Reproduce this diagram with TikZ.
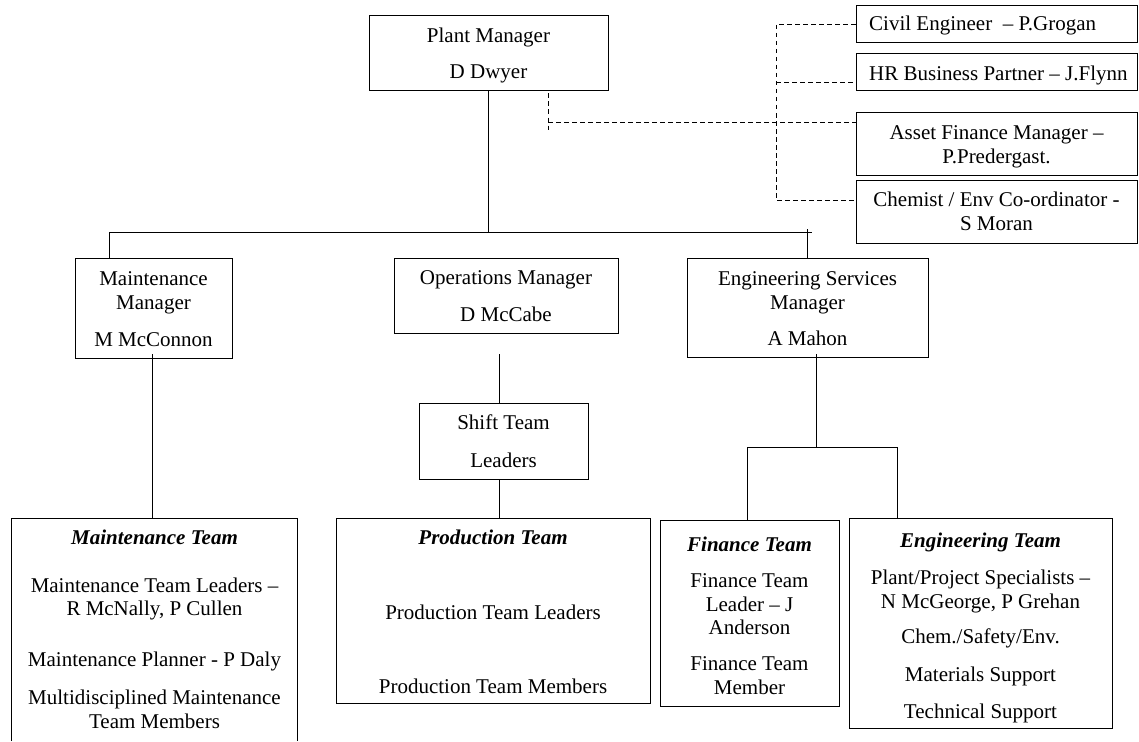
\documentclass[tikz,border=0pt]{standalone}
\usepackage{fontspec}
\setmainfont{Liberation Serif}
\begin{document}
\begin{tikzpicture}[x=1pt,y=-1pt,
  box/.style={draw=black, line width=1pt, inner sep=0pt, rectangle},
  openbox/.style={draw=none, inner sep=0pt, rectangle},
  txt/.style={font=\fontsize{21}{23.5}\selectfont, align=center, inner sep=0pt},
  conn/.style={line width=1pt, black},
  dotline/.style={line width=1pt, black, dash pattern=on 4.5pt off 3.5pt}]
\useasboundingbox (0,0) rectangle (1139,741);
\newcommand\mybox[6][box]{\node[#1, minimum width={(#5-#3)*1pt}, minimum height={(#6-#4)*1pt}] (#2) at ({(#3+#5)/2},{(#4+#6)/2}) {};}
% boxes
\mybox{pm}{369}{16}{608}{91}
\mybox{ce}{856}{6}{1137}{43}
\mybox{hr}{856}{54}{1137}{91}
\mybox{af}{856}{113}{1137}{175}
\mybox{ch}{856}{180}{1137}{243}
\mybox{mm}{75}{258}{232}{358}
\mybox{ops}{394}{258}{618}{333}
\mybox{es}{687}{258}{928}{357}
\mybox{st}{419}{403}{588}{479}
\mybox[openbox]{mt}{12}{519}{297}{741}
\mybox{pt}{336}{518}{650}{703}
\mybox{fin}{660}{520}{839}{706}
\mybox{et}{849}{518}{1112}{728}
\draw[conn] (mt.south west) -- (mt.north west) -- (mt.north east) -- (mt.south east);
% texts
\node[txt, anchor=base] (pm-t) at (488.5,79) {Plant Manager\\[12.5pt]D Dwyer};
\node[txt, anchor=base west] (ce-t) at (869,31) {Civil Engineer\ \ -- P.Grogan};
\node[txt, anchor=base west] (hr-t) at (869,81) {HR Business Partner -- J.Flynn};
\node[txt, anchor=base] (af-t) at (996.5,163) {Asset Finance Manager --\\P.Predergast.};
\node[txt, anchor=base] (ch-t) at (996.5,230) {Chemist / Env Co-ordinator -\\S Moran};
\node[txt, anchor=base] (mm-t) at (153.5,346) {Maintenance\\Manager\\[13.5pt]M McConnon};
\node[txt, anchor=base] (ops-t) at (506,321) {Operations Manager\\[13.5pt]D McCabe};
\node[txt, anchor=base] (es-t) at (807.5,345) {Engineering Services\\Manager\\[12.5pt]A Mahon};
\node[txt, anchor=base] (st-t) at (503.5,467) {Shift Team\\[14.5pt]Leaders};
\node[txt, anchor=base] (mt-t) at (154.5,728) {\textbf{\textit{Maintenance Team}}\\[24.5pt]Maintenance Team Leaders --\\R McNally, P Cullen\\[27.5pt]Maintenance Planner - P Daly\\[14.5pt]Multidisciplined Maintenance\\Team Members};
\node[txt, anchor=base] (pt-t) at (493,693) {\textbf{\textit{Production Team}}\\[51.5pt]Production Team Leaders\\[50.5pt]Production Team Members};
\node[txt, anchor=base] (fin-t) at (749.5,694) {\textbf{\textit{Finance Team}}\\[12.5pt]Finance Team\\Leader -- J\\Anderson\\[12.5pt]Finance Team\\Member};
\node[txt, anchor=base] (et-t) at (980.5,718) {\textbf{\textit{Engineering Team}}\\[13.5pt]Plant/Project Specialists --\\N McGeorge, P Grehan\\[11.5pt]Chem./Safety/Env.\\[14.5pt]Materials Support\\[13.5pt]Technical Support};
% dashed connectors
\coordinate (pmd) at (548,122);
\coordinate (dvt) at (776,25);
\coordinate (dvb) at (776,200);
\coordinate (hrd) at (776,83);
\draw[dotline] ([yshift=-2pt]pm.south -| pmd) -- ([yshift=-10pt]pmd);
\draw[dotline] (pmd) -- (pmd -| af.west);
\draw[dotline] (ce.west) -- (ce.west -| dvt) -- (dvb) -- (dvb -| ch.west);
\draw[dotline] (hrd) -- (hrd -| hr.west);
% solid connectors
\coordinate (barL) at (109,232);
\coordinate (barR) at (812,232);
\coordinate (tick) at (807,229);
\draw[conn] (pm.south) -- (pm.south |- barL);
\draw[conn] (barL) -- (barR);
\draw[conn] (barL) -- (barL |- mm.north);
\draw[conn] (tick) -- (tick |- es.north);
\coordinate (m1) at (152,354);
\draw[conn] (m1) -- (m1 |- mt.north);
\coordinate (o1) at (499,354);
\draw[conn] (o1) -- (o1 |- st.north);
\draw[conn] (o1 |- st.south) -- (o1 |- pt.north);
\coordinate (e1) at (816,354);
\coordinate (e2) at (816,447);
\coordinate (fL) at (747,447);
\coordinate (fR) at (897,447);
\draw[conn] (e1) -- (e2);
\draw[conn] (fL) -- (fR);
\draw[conn] (fL) -- (fL |- fin.north);
\draw[conn] (fR) -- (fR |- et.north);
\end{tikzpicture}
\end{document}
